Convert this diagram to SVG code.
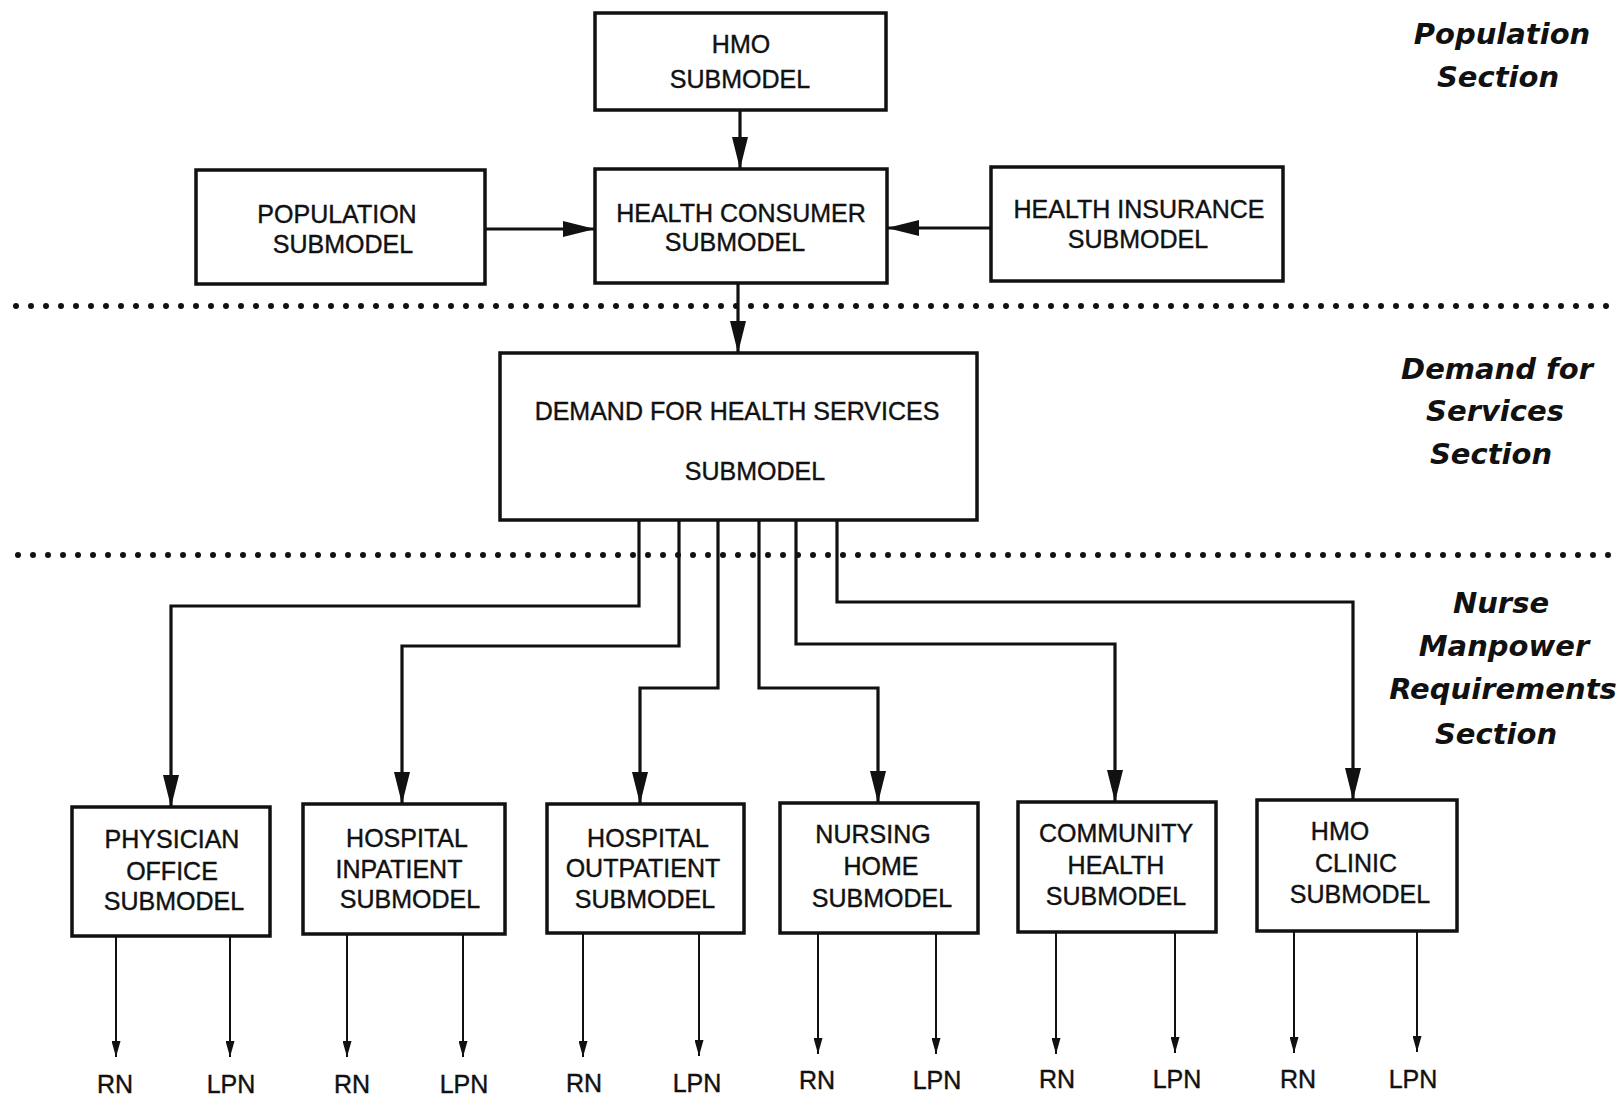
<svg xmlns="http://www.w3.org/2000/svg" width="1624" height="1096" viewBox="0 0 1624 1096">
<style>
.box{fill:#fff;stroke:#111;stroke-width:3.5}
.t{font-family:"Liberation Sans",Arial,sans-serif;font-size:25px;fill:#111;text-anchor:middle;stroke:#111;stroke-width:0.4}
.sec{font-family:"DejaVu Sans","Liberation Sans",sans-serif;font-weight:bold;font-style:italic;font-size:29px;fill:#111;text-anchor:middle}
.c{fill:none;stroke:#111;stroke-width:3.2}
.o{fill:none;stroke:#111;stroke-width:2}
.dots{stroke:#111;stroke-width:6;stroke-linecap:round;stroke-dasharray:0 15}
</style>
<defs>
<marker id="ah" markerUnits="userSpaceOnUse" markerWidth="32" markerHeight="16" viewBox="0 0 32 16" refX="32" refY="8" orient="auto"><path d="M0,0 L32,8 L0,16 Z" fill="#111"/></marker>
<marker id="sa" markerUnits="userSpaceOnUse" markerWidth="16" markerHeight="9" viewBox="0 0 16 9" refX="16" refY="4.5" orient="auto"><path d="M0,0 L16,4.5 L0,9 Z" fill="#111"/></marker>
</defs>
<rect width="1624" height="1096" fill="#fff"/>

<g id="separators">
<line class="dots" x1="16" y1="306" x2="1620" y2="306"/>
<line class="dots" x1="18" y1="555" x2="1620" y2="555"/>
</g>

<g id="section-labels">
<text class="sec" x="1502" y="44">Population</text>
<text class="sec" x="1498" y="87">Section</text>
<text class="sec" x="1497" y="379">Demand for</text>
<text class="sec" x="1495" y="421">Services</text>
<text class="sec" x="1491" y="464">Section</text>
<text class="sec" x="1501" y="613">Nurse</text>
<text class="sec" x="1504" y="656">Manpower</text>
<text class="sec" x="1503" y="699">Requirements</text>
<text class="sec" x="1496" y="744">Section</text>
</g>

<g id="connectors">
<line class="c" x1="740" y1="110" x2="740" y2="169" marker-end="url(#ah)"/>
<line class="c" x1="485" y1="229" x2="595" y2="229" marker-end="url(#ah)"/>
<line class="c" x1="991" y1="228" x2="887" y2="228" marker-end="url(#ah)"/>
<line class="c" x1="738" y1="283" x2="738" y2="353" marker-end="url(#ah)"/>
<polyline class="c" points="639,520 639,606 171,606 171,807" marker-end="url(#ah)"/>
<polyline class="c" points="679,520 679,646 402,646 402,804" marker-end="url(#ah)"/>
<polyline class="c" points="718,520 718,688 640,688 640,804" marker-end="url(#ah)"/>
<polyline class="c" points="759,520 759,688 878,688 878,803" marker-end="url(#ah)"/>
<polyline class="c" points="796,520 796,644 1115,644 1115,802" marker-end="url(#ah)"/>
<polyline class="c" points="837,520 837,602 1353,602 1353,800" marker-end="url(#ah)"/>
<line class="o" x1="116" y1="936" x2="116" y2="1057" marker-end="url(#sa)"/>
<line class="o" x1="230" y1="936" x2="230" y2="1057" marker-end="url(#sa)"/>
<line class="o" x1="347" y1="934" x2="347" y2="1057" marker-end="url(#sa)"/>
<line class="o" x1="463" y1="934" x2="463" y2="1057" marker-end="url(#sa)"/>
<line class="o" x1="583" y1="933" x2="583" y2="1057" marker-end="url(#sa)"/>
<line class="o" x1="699" y1="933" x2="699" y2="1056" marker-end="url(#sa)"/>
<line class="o" x1="818" y1="933" x2="818" y2="1054" marker-end="url(#sa)"/>
<line class="o" x1="936" y1="933" x2="936" y2="1054" marker-end="url(#sa)"/>
<line class="o" x1="1056" y1="932" x2="1056" y2="1054" marker-end="url(#sa)"/>
<line class="o" x1="1175" y1="932" x2="1175" y2="1053" marker-end="url(#sa)"/>
<line class="o" x1="1294" y1="931" x2="1294" y2="1053" marker-end="url(#sa)"/>
<line class="o" x1="1417" y1="931" x2="1417" y2="1052" marker-end="url(#sa)"/>
</g>

<g id="hmo-submodel">
<rect class="box" x="595" y="13" width="291" height="97"/>
<text class="t" x="741" y="53">HMO</text>
<text class="t" x="740" y="88">SUBMODEL</text>
</g>
<g id="population-submodel">
<rect class="box" x="196" y="170" width="289" height="114"/>
<text class="t" x="337" y="223">POPULATION</text>
<text class="t" x="343" y="253">SUBMODEL</text>
</g>
<g id="health-consumer-submodel">
<rect class="box" x="595" y="169" width="292" height="114"/>
<text class="t" x="741" y="222">HEALTH CONSUMER</text>
<text class="t" x="735" y="251">SUBMODEL</text>
</g>
<g id="health-insurance-submodel">
<rect class="box" x="991" y="167" width="292" height="114"/>
<text class="t" x="1139" y="218">HEALTH INSURANCE</text>
<text class="t" x="1138" y="248">SUBMODEL</text>
</g>
<g id="demand-submodel">
<rect class="box" x="500" y="353" width="477" height="167"/>
<text class="t" x="737" y="420">DEMAND FOR HEALTH SERVICES</text>
<text class="t" x="755" y="480">SUBMODEL</text>
</g>

<g id="physician-office">
<rect class="box" x="72" y="807" width="198" height="129"/>
<text class="t" x="172" y="848">PHYSICIAN</text>
<text class="t" x="172" y="880">OFFICE</text>
<text class="t" x="174" y="910">SUBMODEL</text>
</g>
<g id="hospital-inpatient">
<rect class="box" x="303" y="804" width="202" height="130"/>
<text class="t" x="407" y="847">HOSPITAL</text>
<text class="t" x="399" y="878">INPATIENT</text>
<text class="t" x="410" y="908">SUBMODEL</text>
</g>
<g id="hospital-outpatient">
<rect class="box" x="547" y="804" width="197" height="129"/>
<text class="t" x="648" y="847">HOSPITAL</text>
<text class="t" x="643" y="877">OUTPATIENT</text>
<text class="t" x="645" y="908">SUBMODEL</text>
</g>
<g id="nursing-home">
<rect class="box" x="780" y="803" width="198" height="130"/>
<text class="t" x="873" y="843">NURSING</text>
<text class="t" x="881" y="875">HOME</text>
<text class="t" x="882" y="907">SUBMODEL</text>
</g>
<g id="community-health">
<rect class="box" x="1018" y="802" width="198" height="130"/>
<text class="t" x="1116" y="842">COMMUNITY</text>
<text class="t" x="1116" y="874">HEALTH</text>
<text class="t" x="1116" y="905">SUBMODEL</text>
</g>
<g id="hmo-clinic">
<rect class="box" x="1257" y="800" width="200" height="131"/>
<text class="t" x="1340" y="840">HMO</text>
<text class="t" x="1356" y="872">CLINIC</text>
<text class="t" x="1360" y="903">SUBMODEL</text>
</g>

<g id="outputs">
<text class="t" x="115" y="1093">RN</text>
<text class="t" x="231" y="1093">LPN</text>
<text class="t" x="352" y="1093">RN</text>
<text class="t" x="464" y="1093">LPN</text>
<text class="t" x="584" y="1092">RN</text>
<text class="t" x="697" y="1092">LPN</text>
<text class="t" x="817" y="1089">RN</text>
<text class="t" x="937" y="1089">LPN</text>
<text class="t" x="1057" y="1088">RN</text>
<text class="t" x="1177" y="1088">LPN</text>
<text class="t" x="1298" y="1088">RN</text>
<text class="t" x="1413" y="1088">LPN</text>
</g>
</svg>
